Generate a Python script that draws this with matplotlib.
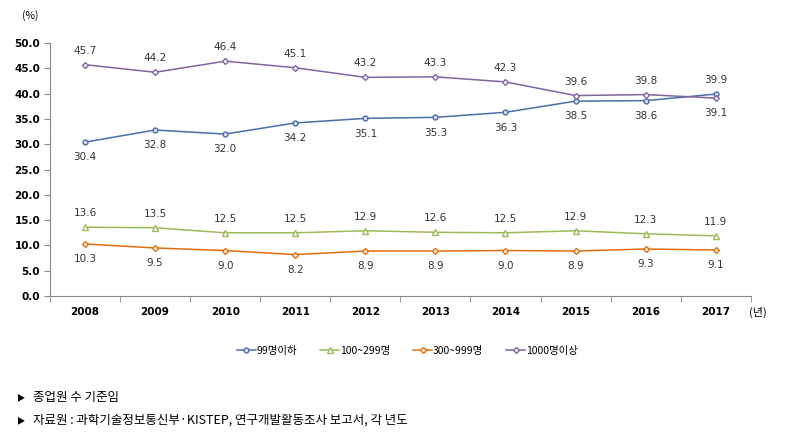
import matplotlib
matplotlib.use('Agg')
from matplotlib import pyplot as plt

plt.rcParams['font.family'] = ['Noto Sans CJK KR', 'DejaVu Sans']

years = ['2008', '2009', '2010', '2011', '2012', '2013', '2014', '2015', '2016', '2017']
s99 = [30.4, 32.8, 32.0, 34.2, 35.1, 35.3, 36.3, 38.5, 38.6, 39.9]
s100 = [13.6, 13.5, 12.5, 12.5, 12.9, 12.6, 12.5, 12.9, 12.3, 11.9]
s300 = [10.3, 9.5, 9.0, 8.2, 8.9, 8.9, 9.0, 8.9, 9.3, 9.1]
s1000 = [45.7, 44.2, 46.4, 45.1, 43.2, 43.3, 42.3, 39.6, 39.8, 39.1]
names = ['99명이하', '100~299명', '300~999명', '1000명이상']

fig = plt.figure(figsize=(7.92, 4.38), dpi=100)
ax = fig.add_axes([0.063, 0.324, 0.885, 0.578])
x = list(range(len(years)))

# series: values, colour, marker, size, label above?
series = [
    (s99, '#4A6FA5', 'o', 3.5, False),
    (s100, '#9BBB59', '^', 4, True),
    (s300, '#E46C0A', 'D', 3, False),
    (s1000, '#8064A2', 'D', 3, True),
]
for (vals, col, mk, ms, above), name in zip(series, names):
    ax.plot(x, vals, color=col, lw=1.1, marker=mk, ms=ms, mfc='#D9DCEB' if col == '#4A6FA5' else 'white',
            mec=col, mew=1, label=name)
    for i, v in enumerate(vals):
        up = above
        if col in ('#4A6FA5', '#8064A2') and i == 9:
            up = not above
        ax.annotate('%.1f' % v, (i, v), xytext=(0, 10 if up else -11), textcoords='offset points',
                    ha='center', va='center', fontsize=7.5, color='#333333', family='DejaVu Sans')

ax.set_xlim(-0.5, 9.5)
ax.set_ylim(0, 50)
ax.set_yticks([i * 5 for i in range(11)])
ax.set_yticklabels(['%.1f' % (i * 5) for i in range(11)], fontsize=7.5, fontweight='bold', family='DejaVu Sans')
ax.set_xticks(x)
ax.set_xticklabels(years, fontsize=7.5, fontweight='bold', family='DejaVu Sans')
ax.set_xticks([i - 0.5 for i in range(11)], minor=True)
ax.tick_params(axis='x', which='major', length=0, pad=8)
ax.tick_params(axis='x', which='minor', length=4, color='#888888')
ax.tick_params(axis='y', length=4, color='#888888', pad=3)
for s in ['top', 'right']:
    ax.spines[s].set_visible(False)
for s in ['left', 'bottom']:
    ax.spines[s].set_color('#888888')

fig.text(0.028, 0.965, '(%)', fontsize=7.5, ha='left', va='center')
fig.text(0.957, 0.287, '(년)', fontsize=8, ha='center', va='center')

ax.legend(loc='center', bbox_to_anchor=(0.51, -0.215), ncol=4, frameon=False, fontsize=7.5,
          handlelength=1.8, columnspacing=2.2, handletextpad=0.1)

# footnotes
fig.text(0.022, 0.092, '▶', fontsize=6, va='center')
fig.text(0.042, 0.092, '종업원 수 기준임', fontsize=9, va='center')
fig.text(0.022, 0.040, '▶', fontsize=6, va='center')
fig.text(0.042, 0.040, '자료원 : 과학기술정보통신부·KISTEP, 연구개발활동조사 보고서, 각 년도', fontsize=9, va='center')

fig.savefig('out.png', dpi=100)
